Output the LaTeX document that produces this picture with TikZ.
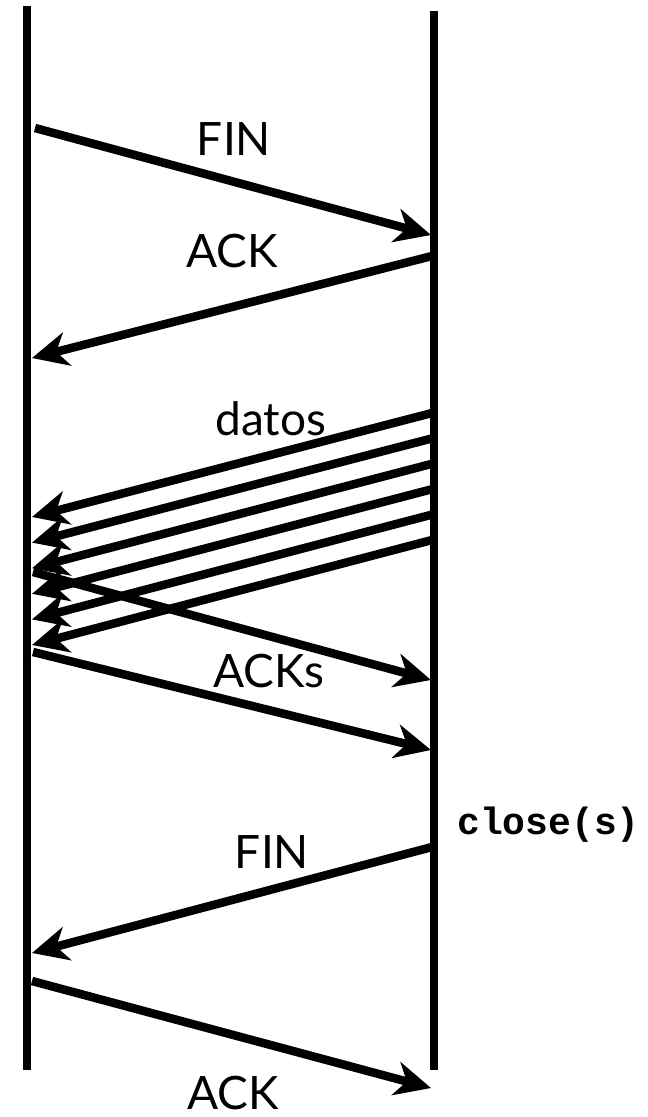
\documentclass[tikz,border=0pt]{standalone}
\usepackage{fontspec}
\setmainfont{Lato}
\newfontfamily\codefont{Liberation Mono}
\usetikzlibrary{arrows.meta}

\begin{document}
\begin{tikzpicture}
	[x=1pt,y=-1pt,line width=8.5pt,
	 msg/.style={-{Stealth[length=36pt,width=34pt,inset=11pt]}},
	 lbl/.style={anchor=base,inner sep=0pt,font=\fontsize{46}{46}\selectfont}]
	\useasboundingbox (0,0) rectangle (648,1117);
	% lifelines
	\coordinate (cliTop) at (27,6);
	\coordinate (cliBot) at (27,1070);
	\coordinate (srvTop) at (434,11);
	\coordinate (srvBot) at (434,1070);
	\draw (cliTop) -- (cliBot);
	\draw (srvTop) -- (srvBot);
	
	% FIN / ACK
	\coordinate (fin1a) at (35,128);
	\coordinate (fin1b) at (431,235);
	\coordinate (ack1a) at (432,256);
	\coordinate (ack1b) at (32,358);
	\draw[msg] (fin1a) -- (fin1b);
	\draw[msg] (ack1a) -- (ack1b);
	\node[lbl] (finTxt) at (234,155) {FIN};
	\node[lbl] (ackTxt) at (232,267) {ACK};
	
	% datos
	\foreach \i in {0,...,5}{
		\coordinate (dat\i a) at (432,{413+25.4*\i});
		\coordinate (dat\i b) at (32,{517+25.6*\i});
		\draw[msg] (dat\i a) -- (dat\i b);
	}
	\node[lbl] (datTxt) at (271,435) {datos};
	
	% ACKs
	\coordinate (acks1a) at (33,572);
	\coordinate (acks1b) at (431,680);
	\coordinate (acks2a) at (33,652);
	\coordinate (acks2b) at (431,750);
	\draw[msg] (acks1a) -- (acks1b);
	\draw[msg] (acks2a) -- (acks2b);
	\node[lbl] (acksTxt) at (269,687) {ACKs};
	
	% close
	\node[anchor=base west,inner sep=0pt,font=\codefont\bfseries\fontsize{38}{38}\selectfont] (closeTxt) at (453,834) {close(s)};
	\coordinate (fin2a) at (432,847);
	\coordinate (fin2b) at (32,953);
	\coordinate (ack2a) at (32,981);
	\coordinate (ack2b) at (431,1088);
	\draw[msg] (fin2a) -- (fin2b);
	\draw[msg] (ack2a) -- (ack2b);
	\node[lbl] (fin2Txt) at (272,868) {FIN};
	\node[lbl] (ack2Txt) at (233,1109) {ACK};
\end{tikzpicture}
\end{document}
